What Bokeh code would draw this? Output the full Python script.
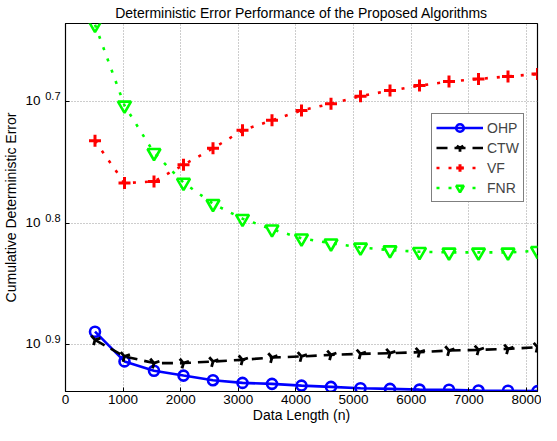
from bokeh.plotting import figure
from bokeh.models import (Range1d, FixedTicker, Legend, LegendItem, LogAxis,
                          LogScale, CustomJSTickFormatter)
from bokeh.embed import file_html
from bokeh.resources import INLINE

# ---------------- data ----------------
data_length = [512, 1024, 1536, 2048, 2560, 3072, 3584, 4096,
               4608, 5120, 5632, 6144, 6656, 7168, 7680, 8192]
ohp = [0.1290, 0.12193, 0.11978, 0.11869, 0.11765, 0.11705, 0.11684, 0.11646,
       0.11617, 0.11587, 0.11574, 0.11558, 0.11553, 0.11537, 0.11532, 0.11524]
ctw = [0.12700, 0.12308, 0.12154, 0.12154, 0.12190, 0.12229, 0.12283, 0.12308,
       0.12345, 0.12367, 0.12385, 0.12408, 0.12446, 0.12462, 0.12485, 0.12526]
vf = [0.18528, 0.17100, 0.17154, 0.17702, 0.18265, 0.18901, 0.19263, 0.19630,
      0.19880, 0.20166, 0.20380, 0.20574, 0.20731, 0.20835, 0.20937, 0.21033]
fnr = [0.23094, 0.19816, 0.18114, 0.17118, 0.16444, 0.15984, 0.15668, 0.15400,
       0.15256, 0.15136, 0.15059, 0.15011, 0.14993, 0.14993, 0.14993, 0.15039]

x_ticks = [0, 1000, 2000, 3000, 4000, 5000, 6000, 7000, 8000]
y_tick_values = [10 ** -0.9, 10 ** -0.8, 10 ** -0.7]
y_tick_base = ["10", "10", "10"]
y_tick_exponents = ["0.9", "0.8", "0.7"]

title_text = "Deterministic Error Performance of the Proposed Algorithms"
x_label = "Data Length (n)"
y_label = "Cumulative Deterministic Error"
series_names = ["OHP", "CTW", "VF", "FNR"]

# ---------------- layout ----------------
W, H = 541, 425
ML, MR, MT, MB = 64, 4, 21, 34
FH = H - MT - MB
FONT = "Liberation Sans"
Y0, Y1 = 10 ** -0.9387, 10 ** -0.6355
DEC_PER_PX = (0.9387 - 0.6355) / FH


def shifted(px):
    f = 10 ** (-px * DEC_PER_PX)
    return Range1d(Y0 * f, Y1 * f)


p = figure(width=W, height=H, title=title_text, y_axis_type="log",
           x_range=Range1d(0, 8192), y_range=Range1d(Y0, Y1),
           output_backend="svg", toolbar_location=None,
           min_border_left=ML, min_border_right=MR,
           min_border_top=MT, min_border_bottom=MB)
p.background_fill_color = "white"
p.border_fill_color = "white"
p.outline_line_color = "black"
p.outline_line_width = 1.2

p.title.text_font = FONT
p.title.text_font_size = "14px"
p.title.text_font_style = "normal"
p.title.text_color = "black"
p.title.align = "center"
p.title.standoff = 5
p.title.offset = 0

# x axis
p.xaxis.ticker = FixedTicker(ticks=x_ticks, minor_ticks=[])
p.xaxis.major_tick_in = 4
p.xaxis.major_tick_out = 0
p.xaxis.minor_tick_line_color = None
p.xaxis.axis_line_color = "black"
p.xaxis.major_tick_line_color = "black"
p.xaxis.major_label_text_font = FONT
p.xaxis.major_label_text_font_size = "13.5px"
p.xaxis.major_label_text_color = "black"
p.xaxis.major_label_standoff = 3
p.xaxis.axis_label = x_label
p.xaxis.axis_label_text_font = FONT
p.xaxis.axis_label_text_font_size = "14px"
p.xaxis.axis_label_text_font_style = "normal"
p.xaxis.axis_label_text_color = "black"
p.xaxis.axis_label_standoff = 0

# y axis: ticks only (labels are built from two outer axes: exponent + base)
p.yaxis.ticker = FixedTicker(ticks=y_tick_values, minor_ticks=[])
p.yaxis.formatter = CustomJSTickFormatter(code="return ''")
p.yaxis.major_tick_in = 4
p.yaxis.major_tick_out = 0
p.yaxis.minor_tick_line_color = None
p.yaxis.axis_line_color = "black"
p.yaxis.major_tick_line_color = "black"
p.yaxis.major_label_standoff = 0

p.extra_y_ranges = {"exp": shifted(5.5), "base": shifted(1)}
p.extra_y_scales = {"exp": LogScale(), "base": LogScale()}

exp_axis = LogAxis(y_range_name="exp",
                   ticker=FixedTicker(ticks=y_tick_values, minor_ticks=[]),
                   formatter=CustomJSTickFormatter(args=dict(labels=y_tick_exponents),
                                                   code="return labels[index]"))
base_axis = LogAxis(y_range_name="base",
                    ticker=FixedTicker(ticks=y_tick_values, minor_ticks=[]),
                    formatter=CustomJSTickFormatter(args=dict(labels=y_tick_base),
                                                    code="return labels[index]"))
for ax in (exp_axis, base_axis):
    ax.axis_line_color = None
    ax.major_tick_line_color = None
    ax.minor_tick_line_color = None
    ax.major_tick_in = 0
    ax.major_tick_out = 0
    ax.major_label_text_font = FONT
    ax.major_label_text_color = "black"
exp_axis.major_label_text_font_size = "11px"
exp_axis.major_label_standoff = 5
base_axis.major_label_text_font_size = "13.5px"
base_axis.major_label_standoff = 2
base_axis.axis_label = y_label
base_axis.axis_label_text_font = FONT
base_axis.axis_label_text_font_size = "14px"
base_axis.axis_label_text_font_style = "normal"
base_axis.axis_label_text_color = "black"
base_axis.axis_label_standoff = 3
p.add_layout(exp_axis, "left")
p.add_layout(base_axis, "left")

for g in (p.xgrid, p.ygrid):
    g.grid_line_color = "#9a9a9a"
    g.grid_line_dash = "1 2"
    g.grid_line_width = 1

# ---------------- series ----------------
r1l = p.line(data_length, ohp, line_color="#0000ff", line_width=2.6)
r1m = p.scatter(data_length, ohp, marker="circle", size=10, line_color="#0000ff",
                fill_color=None, line_width=2.6)

r2l = p.line(data_length, ctw, line_color="black", line_width=2.6, line_dash="11 7")
r2m = p.scatter(data_length, ctw, marker="y", size=11, line_color="black",
                line_width=2.8, angle=-0.26)

r3l = p.line(data_length, vf, line_color="#ff0000", line_width=2.6, line_dash="3 9")
r3m = p.scatter(data_length, vf, marker="cross", size=12, line_color="#ff0000",
                line_width=3)

r4l = p.line(data_length, fnr, line_color="#00ff00", line_width=2.6, line_dash="3 9")
r4m = p.scatter(data_length, fnr, marker="inverted_triangle", size=13,
                line_color="#00ff00", fill_color=None, line_width=2.6)

legend = Legend(items=[
    LegendItem(label=series_names[0], renderers=[r1l, r1m]),
    LegendItem(label=series_names[1], renderers=[r2l, r2m]),
    LegendItem(label=series_names[2], renderers=[r3l, r3m]),
    LegendItem(label=series_names[3], renderers=[r4l, r4m]),
], location=(366, 189))
legend.border_line_color = "black"
legend.border_line_width = 1.5
legend.background_fill_color = "white"
legend.background_fill_alpha = 1
legend.label_text_font = FONT
legend.label_text_font_size = "14px"
legend.glyph_width = 47
legend.glyph_height = 19
legend.label_height = 19
legend.label_standoff = 4
legend.spacing = 1
legend.padding = 4
legend.margin = 0
p.add_layout(legend)

open("out.html", "w").write(file_html(p, INLINE))
